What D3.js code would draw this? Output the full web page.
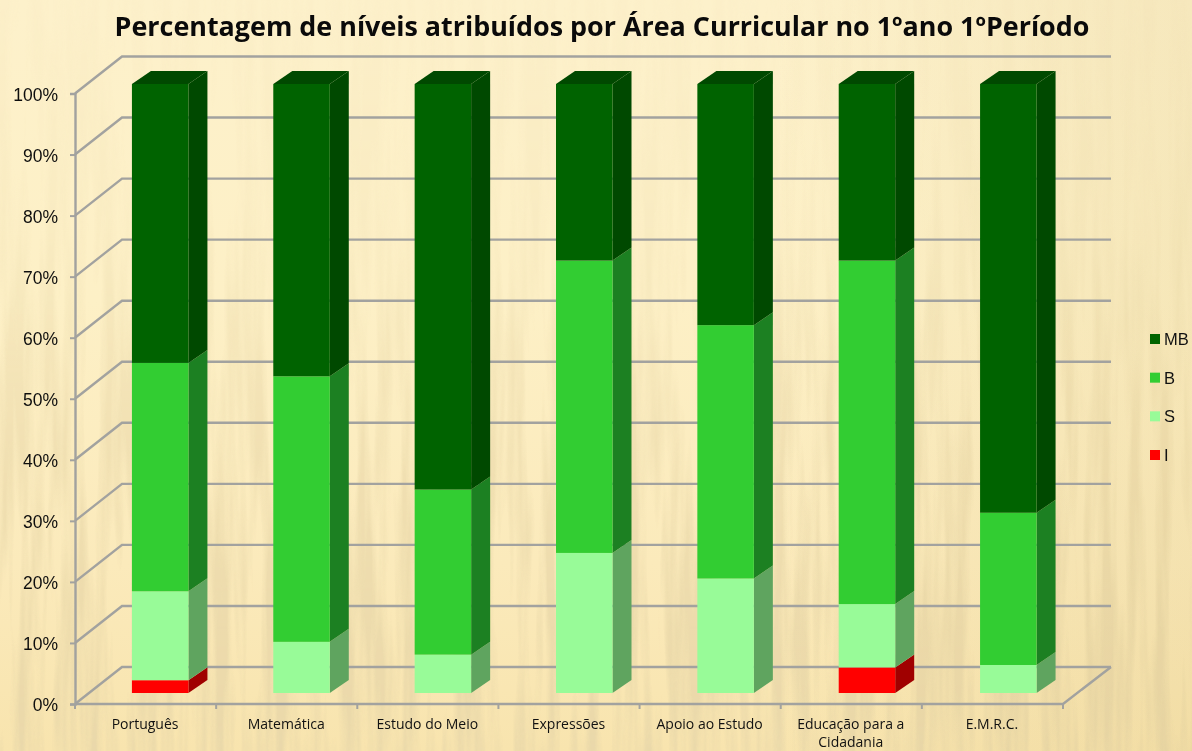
<!DOCTYPE html>
<html><head><meta charset="utf-8">
<script src="https://cdn.jsdelivr.net/npm/d3@7"></script>
<style>html,body{margin:0;padding:0;background:#fbeec4}svg{display:block}</style></head>
<body><div id="c"></div>
<script>
const categories=["Português","Matemática","Estudo do Meio","Expressões","Apoio ao Estudo","Educação para a Cidadania","E.M.R.C."];
const seriesNames=["I","S","B","MB"];
const valuesI=[2.1,0,0,0,0,4.2,0];
const valuesS=[14.6,8.4,6.3,23,18.8,10.4,4.6];
const valuesB=[37.5,43.6,27.1,48,41.6,56.4,25];
const valuesMB=[45.8,48,66.6,29,39.6,29,70.4];
const yTicks=[0,10,20,30,40,50,60,70,80,90,100];
const legendOrder=["MB","B","S","I"];
const frontColors={I:"#ff0000",S:"#98fb98",B:"#32cd32",MB:"#006400"};
const sideColors={I:"#a00000",S:"#5fa45f",B:"#1f8022",MB:"#004800"};
const topColor="#004a00";
const seriesValues={I:valuesI,S:valuesS,B:valuesB,MB:valuesMB};

const W=1192,H=751;
const svg=d3.select("#c").append("svg").attr("width",W).attr("height",H);
const defs=svg.append("defs");

// background
const bg=defs.append("linearGradient").attr("id","bg").attr("x1",0).attr("y1",0).attr("x2",0).attr("y2",1);
[[0,"#fdf1cb"],[0.4,"#fdf0c6"],[0.75,"#fbeabb"],[1,"#f8e4ae"]].forEach(s=>bg.append("stop").attr("offset",s[0]).attr("stop-color",s[1]));
const mk=defs.append("linearGradient").attr("id","mk").attr("x1",0).attr("y1",0).attr("x2",0).attr("y2",1);
[[0,0.06],[0.3,0.18],[0.6,0.6],[1,1]].forEach(s=>mk.append("stop").attr("offset",s[0]).attr("stop-color","#fff").attr("stop-opacity",s[1]));
defs.append("mask").attr("id","fade").append("rect").attr("width",W).attr("height",H).attr("fill","url(#mk)");
const tf=defs.append("filter").attr("id","wood").attr("x",0).attr("y",0).attr("width","100%").attr("height","100%");
tf.append("feTurbulence").attr("type","fractalNoise").attr("baseFrequency","0.07 0.004").attr("numOctaves",3).attr("seed",11);
tf.append("feColorMatrix").attr("type","matrix").attr("values","0 0 0 0 0.82  0 0 0 0 0.69  0 0 0 0 0.40  3.2 0 0 0 -1.25");
const rg=defs.append("linearGradient").attr("id","rg").attr("x1",0).attr("x2",1).attr("y1",0).attr("y2",0);
[[0,0],[0.65,0],[0.9,0.12],[1,0.16]].forEach(s=>rg.append("stop").attr("offset",s[0]).attr("stop-color","#d2b872").attr("stop-opacity",s[1]));
defs.append("filter").attr("id","soft").append("feGaussianBlur").attr("stdDeviation",0.45);

svg.append("rect").attr("width",W).attr("height",H).attr("fill","url(#bg)");
svg.append("g").attr("mask","url(#fade)").append("rect").attr("width",W).attr("height",H).attr("filter","url(#wood)");
svg.append("rect").attr("width",W).attr("height",H).attr("fill","url(#rg)");

// scales
const yAxisScale=d3.scaleLinear().domain([0,100]).range([704,93.5]);
const yBar=d3.scaleLinear().domain([0,100]).range([693,84]);
const xAxisScale=d3.scaleBand().domain(categories).range([75,1063]);
const xBar=d3.scaleBand().domain(categories).range([89.5,1079]);
const barW=56.5, depthX=19, depthY=13, wallX=47, wallY=37;
const gridColor="#a2a29f";

const chart=svg.append("g").attr("filter","url(#soft)");
// grid
const line=d3.line();
chart.append("g").selectAll("path").data(yTicks).join("path")
  .attr("fill","none").attr("stroke",gridColor).attr("stroke-width",2.4)
  .attr("d",t=>{const y=yAxisScale(t);return line([[75,y],[75+wallX,y-wallY],[1063+wallX+1,y-wallY]]);});
chart.append("path").attr("fill","none").attr("stroke",gridColor).attr("stroke-width",2.4)
  .attr("d",line([[75,704],[1063,704],[1063+wallX+1,704-wallY]]));

// axes
const yAxis=d3.axisLeft(yAxisScale).tickValues(yTicks).tickFormat(d=>d+"%").tickSize(5).tickPadding(12);
const yG=chart.append("g").attr("transform","translate(75,0)").call(yAxis);
yG.select(".domain").attr("stroke",gridColor).attr("stroke-width",2.4);
yG.selectAll("line").attr("stroke",gridColor).attr("stroke-width",2);
yG.selectAll("text").attr("fill","#111").attr("font-family","'Liberation Sans',sans-serif").attr("font-size",17.5).attr("transform","translate(0,1)");

const xTickVals=categories.map(c=>xAxisScale(c)).concat([1063]);
chart.append("g").selectAll("line").data(xTickVals).join("line")
  .attr("x1",d=>d).attr("x2",d=>d).attr("y1",704).attr("y2",709).attr("stroke",gridColor).attr("stroke-width",2);

// bars
const stack=d3.stack().keys(seriesNames).value((d,k)=>seriesValues[k][categories.indexOf(d)])(categories);
const barsG=chart.append("g");
stack.forEach(layer=>{
  const k=layer.key;
  const g=barsG.append("g").attr("class","s-"+k);
  const segs=layer.map((d,i)=>({cat:categories[i],y0:d[0],y1:d[1]})).filter(d=>d.y1-d.y0>0);
  g.selectAll("path.side").data(segs).join("path").attr("class","side").attr("fill",sideColors[k])
    .attr("d",d=>{const c=xBar(d.cat)+xBar.bandwidth()/2+barW/2;
      return line([[c,yBar(d.y0)],[c+depthX,yBar(d.y0)-depthY],[c+depthX,yBar(d.y1)-depthY],[c,yBar(d.y1)]])+"Z";});
  g.selectAll("rect").data(segs).join("rect").attr("fill",frontColors[k])
    .attr("x",d=>xBar(d.cat)+xBar.bandwidth()/2-barW/2).attr("width",barW)
    .attr("y",d=>yBar(d.y1)).attr("height",d=>yBar(d.y0)-yBar(d.y1));
  if(k==="MB"){
    g.selectAll("path.top").data(segs).join("path").attr("class","top").attr("fill",topColor)
      .attr("d",d=>{const l=xBar(d.cat)+xBar.bandwidth()/2-barW/2,y=yBar(d.y1);
        return line([[l,y],[l+depthX,y-depthY],[l+barW+depthX,y-depthY],[l+barW,y]])+"Z";});
  }
});

// category labels
const catLines={"Educação para a Cidadania":["Educação para a","Cidadania"]};
const xl=svg.append("g").attr("font-family","'Open Sans',sans-serif").attr("font-size",14).attr("fill","#111").attr("text-anchor","middle");
categories.forEach(c=>{
  const t=xl.append("text").attr("x",xAxisScale(c)+xAxisScale.bandwidth()/2-0.5).attr("y",729);
  (catLines[c]||[c]).forEach((s,i)=>t.append("tspan").attr("x",t.attr("x")).attr("dy",i?18:0).text(s));
});

// legend
const lg=svg.append("g").attr("font-family","'Liberation Sans',sans-serif").attr("font-size",16.5).attr("fill","#111");
const ly=d3.scalePoint().domain(legendOrder).range([339,455]);
legendOrder.forEach(k=>{
  lg.append("rect").attr("x",1150).attr("y",ly(k)-5).attr("width",10).attr("height",10).attr("fill",frontColors[k]);
  lg.append("text").attr("x",1164).attr("y",ly(k)+6).text(k);
});

// title
svg.append("text").attr("x",602).attr("y",36).attr("text-anchor","middle")
  .attr("font-family","'Open Sans','Noto Sans',sans-serif").attr("font-weight",700).attr("font-size",26.9).attr("fill","#0a0a0a")
  .text("Percentagem de níveis atribuídos por Área Curricular no 1ºano 1ºPeríodo");
</script></body></html>
